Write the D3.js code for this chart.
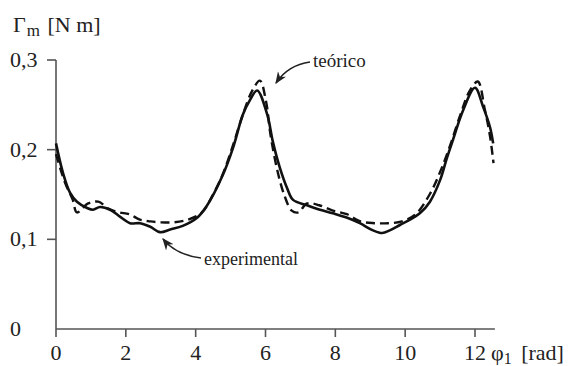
<!DOCTYPE html>
<html>
<head>
<meta charset="utf-8">
<script src="https://cdn.jsdelivr.net/npm/d3@7"></script>
<style>
  body { margin: 0; background: #fff; }
</style>
</head>
<body>
<div id="chart"></div>
<script>
// experimental (solid) curve: [phi, torque]
const experimental = [
  [0, 0.207], [0.20, 0.174], [0.40, 0.152], [0.60, 0.142], [0.89, 0.135], [1.06, 0.133],
  [1.26, 0.136], [1.55, 0.133], [1.84, 0.125], [2.12, 0.118], [2.41, 0.118], [2.70, 0.114],
  [2.98, 0.108], [3.27, 0.111], [3.63, 0.115], [4.04, 0.124], [4.33, 0.138], [4.78, 0.172],
  [5.07, 0.202], [5.35, 0.239], [5.55, 0.255], [5.76, 0.266], [6.05, 0.239], [6.21, 0.209],
  [6.41, 0.180], [6.62, 0.157], [6.79, 0.144], [7.19, 0.138], [7.56, 0.133], [7.93, 0.129],
  [8.34, 0.124], [8.70, 0.118], [9.08, 0.110], [9.34, 0.107], [9.56, 0.110], [9.85, 0.116],
  [10.14, 0.122], [10.42, 0.129], [10.71, 0.142], [11.0, 0.166], [11.19, 0.190], [11.37, 0.211],
  [11.66, 0.244], [12.0, 0.269], [12.23, 0.248], [12.43, 0.225], [12.52, 0.207]
];
// theoretical (dashed) curve
const theoretical = [
  [0, 0.195], [0.26, 0.163], [0.48, 0.144], [0.60, 0.130], [0.92, 0.140], [1.21, 0.142],
  [1.51, 0.134], [1.81, 0.130], [2.10, 0.128], [2.40, 0.122], [2.70, 0.120], [2.99, 0.119],
  [3.39, 0.119], [3.78, 0.122], [4.18, 0.130], [4.47, 0.148], [4.77, 0.172], [5.07, 0.205],
  [5.36, 0.240], [5.61, 0.265], [5.84, 0.277], [6.01, 0.255], [6.15, 0.215], [6.35, 0.175],
  [6.55, 0.148], [6.75, 0.132], [6.94, 0.130], [7.19, 0.140], [7.54, 0.138], [7.93, 0.132],
  [8.33, 0.128], [8.72, 0.120], [9.12, 0.118], [9.51, 0.118], [9.91, 0.120], [10.30, 0.128],
  [10.70, 0.150], [11.0, 0.175], [11.29, 0.205], [11.59, 0.240], [11.84, 0.265], [12.08, 0.276],
  [12.28, 0.245], [12.43, 0.215], [12.53, 0.185]
];
const xTicks = [0, 2, 4, 6, 8, 10, 12];
const yTicks = [0, 0.1, 0.2, 0.3];
const yTickLabels = ["0", "0,1", "0,2", "0,3"];

const width = 570, height = 366;
const svg = d3.select("#chart").append("svg")
  .attr("width", width)
  .attr("height", height)
  .attr("font-family", "'Liberation Serif', 'Times New Roman', Times, serif")
  .attr("fill", "#222");

const x = d3.scaleLinear().domain([0, 12]).range([56, 475]);
const y = d3.scaleLinear().domain([0, 0.3]).range([329, 60]);

const axisColor = "#555";

// axes
svg.append("line")
  .attr("x1", x(0)).attr("x2", x(12.57))
  .attr("y1", y(0)).attr("y2", y(0))
  .attr("stroke", axisColor).attr("stroke-width", 1.6);
svg.append("line")
  .attr("x1", x(0)).attr("x2", x(0))
  .attr("y1", y(0)).attr("y2", y(0.3))
  .attr("stroke", axisColor).attr("stroke-width", 1.6);

svg.selectAll(".xtick")
  .data(xTicks)
  .enter().append("line")
  .attr("x1", d => x(d)).attr("x2", d => x(d))
  .attr("y1", y(0)).attr("y2", y(0) + 8)
  .attr("stroke", axisColor).attr("stroke-width", 1.6);

svg.selectAll(".xlabel")
  .data(xTicks)
  .enter().append("text")
  .attr("x", d => x(d))
  .attr("y", 360)
  .attr("text-anchor", "middle")
  .attr("font-size", 22)
  .text(d => d);

svg.selectAll(".ytick")
  .data(yTicks.filter(d => d > 0))
  .enter().append("line")
  .attr("x1", x(0) - 9).attr("x2", x(0))
  .attr("y1", d => y(d)).attr("y2", d => y(d))
  .attr("stroke", axisColor).attr("stroke-width", 1.6);

svg.selectAll(".ylabel")
  .data(yTicks)
  .enter().append("text")
  .attr("x", 10)
  .attr("y", d => y(d) + 7)
  .attr("font-size", 22)
  .text((d, i) => yTickLabels[i]);

// axis titles
const yTitle = svg.append("text").attr("x", 13).attr("y", 32).attr("font-size", 22);
yTitle.append("tspan").text("Γ");
yTitle.append("tspan").attr("dy", 4).attr("dx", 1).attr("font-size", 17).text("m");
yTitle.append("tspan").attr("dy", -4).attr("dx", 2).text(" [N m]");

const xTitle = svg.append("text").attr("x", 491).attr("y", 360).attr("font-size", 22);
xTitle.append("tspan").text("φ");
xTitle.append("tspan").attr("dy", 4).attr("font-size", 16).text("1");
xTitle.append("tspan").attr("dy", -4).attr("dx", 4).text(" [rad]");

// curves
const line = d3.line()
  .x(d => x(d[0]))
  .y(d => y(d[1]))
  .curve(d3.curveCatmullRom.alpha(0.5));

svg.append("path")
  .datum(theoretical)
  .attr("d", line)
  .attr("fill", "none")
  .attr("stroke", "#111")
  .attr("stroke-width", 2.4)
  .attr("stroke-dasharray", "9,5");

svg.append("path")
  .datum(experimental)
  .attr("d", line)
  .attr("fill", "none")
  .attr("stroke", "#111")
  .attr("stroke-width", 2.6);

// annotations
svg.append("defs").append("marker")
  .attr("id", "arrow")
  .attr("viewBox", "0 0 10 10")
  .attr("refX", 9).attr("refY", 5)
  .attr("markerWidth", 8).attr("markerHeight", 8)
  .attr("orient", "auto")
  .append("path")
  .attr("d", "M0,1 L10,5 L0,9 L3,5 Z")
  .attr("fill", "#222");

svg.append("path")
  .attr("d", "M310,62 Q288,65 276,83")
  .attr("fill", "none").attr("stroke", "#222").attr("stroke-width", 1.5)
  .attr("marker-end", "url(#arrow)");
svg.append("text")
  .attr("x", 313).attr("y", 67)
  .attr("font-size", 19)
  .text("teórico");

svg.append("path")
  .attr("d", "M201,258 Q176,255 163,239")
  .attr("fill", "none").attr("stroke", "#222").attr("stroke-width", 1.5)
  .attr("marker-end", "url(#arrow)");
svg.append("text")
  .attr("x", 204).attr("y", 265)
  .attr("font-size", 18)
  .text("experimental");
</script>
</body>
</html>
